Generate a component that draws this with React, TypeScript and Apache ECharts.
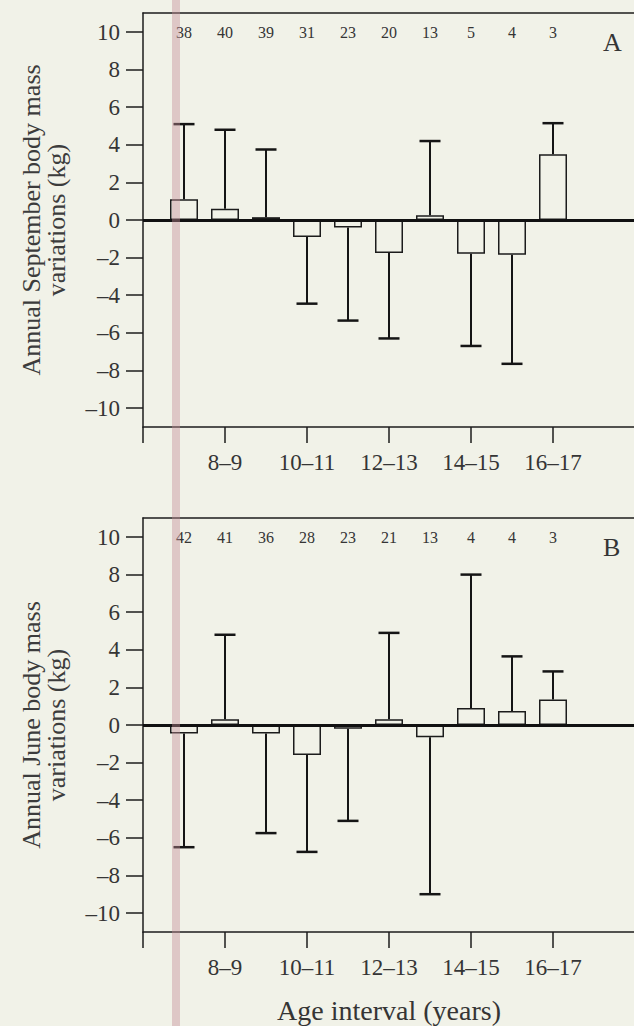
import React, { useEffect, useRef } from "react";
import * as echarts from "echarts";

// Age interval start (7 => "7–8")
const ages = [7, 8, 9, 10, 11, 12, 13, 14, 15, 16];
// Panel A: annual September body mass variations (kg)
const septMeans = [1.1, 0.6, 0.15, -0.9, -0.4, -1.75, 0.25, -1.8, -1.85, 3.5];
const septSD = [4.0, 4.2, 3.6, 3.55, 4.95, 4.55, 3.95, 4.9, 5.8, 1.65];
const septN = [38, 40, 39, 31, 23, 20, 13, 5, 4, 3];
// Panel B: annual June body mass variations (kg)
const juneMeans = [-0.45, 0.3, -0.45, -1.6, -0.2, 0.3, -0.65, 0.9, 0.75, 1.35];
const juneSD = [6.05, 4.5, 5.3, 5.15, 4.9, 4.6, 8.35, 7.1, 2.9, 1.5];
const juneN = [42, 41, 36, 28, 23, 21, 13, 4, 4, 3];
// Axis tick values
const xTicks = [8, 10, 12, 14, 16];
const yTitles = ["Annual September body mass\nvariations (kg)", "Annual June body mass\nvariations (kg)"];
const panelLetters = ["A", "B"];
const xTitle = "Age interval (years)";

const FONT = '"Liberation Serif", "DejaVu Serif", serif';
const TEXT = "#353535";
const INK = "#1c1c1c";
const BG = "#f1f2e8";

export default function App() {
  const ref = useRef<HTMLDivElement>(null);
  useEffect(() => {
    if (!ref.current) return;
    const chart = echarts.init(ref.current, null, { renderer: "svg" });

    const panels = [
      { top: 13, means: septMeans, sd: septSD, n: septN },
      { top: 518, means: juneMeans, sd: juneSD, n: juneN },
    ];
    const grids: any[] = [];
    const xAxes: any[] = [];
    const yAxes: any[] = [];
    const series: any[] = [];
    const graphics: any[] = [];

    panels.forEach((p, i) => {
      const frameGrid = i * 2;
      const dataGrid = i * 2 + 1;
      grids.push({ left: 143, top: p.top, width: 492, height: 414 });
      grids.push({ left: 143, top: p.top + 19, width: 492, height: 376 });

      // frame grid axes
      xAxes.push({
        gridIndex: frameGrid, type: "value", position: "bottom", min: 6, max: 18, interval: 2,
        axisLine: { show: true, onZero: false, lineStyle: { color: INK, width: 1.5 } },
        axisTick: { show: true, inside: false, length: 16, lineStyle: { color: INK, width: 1.5 } },
        axisLabel: {
          show: true, margin: 24, color: TEXT, fontFamily: FONT, fontSize: 23,
          formatter: (v: number) => (xTicks.includes(v) ? `${v}–${v + 1}` : ""),
        },
        splitLine: { show: false },
        name: i === 1 ? xTitle : "",
        nameLocation: "middle", nameGap: 64,
        nameTextStyle: { color: TEXT, fontFamily: FONT, fontSize: 28 },
      });
      xAxes.push({
        gridIndex: frameGrid, type: "value", position: "top", min: 6, max: 18,
        axisLine: { show: true, onZero: false, lineStyle: { color: INK, width: 1.5 } },
        axisTick: { show: false }, axisLabel: { show: false }, splitLine: { show: false },
      });
      yAxes.push({
        gridIndex: frameGrid, type: "value", min: -11, max: 11,
        axisLine: { show: true, onZero: false, lineStyle: { color: INK, width: 1.5 } },
        axisTick: { show: false }, axisLabel: { show: false }, splitLine: { show: false },
      });
      // data grid axes
      xAxes.push({ gridIndex: dataGrid, type: "value", min: 6, max: 18, show: false, axisLine: { onZero: false }, splitLine: { show: false } });
      yAxes.push({
        gridIndex: dataGrid, type: "value", min: -10, max: 10, interval: 2,
        axisLine: { show: false, onZero: false },
        axisTick: { show: true, inside: false, length: 17, lineStyle: { color: INK, width: 1.5 } },
        axisLabel: {
          show: true, margin: 23, color: TEXT, fontFamily: FONT, fontSize: 23,
          formatter: (v: number) => (v < 0 ? "–" + Math.abs(v) : String(v)),
        },
        splitLine: { show: false },
        name: yTitles[i], nameLocation: "middle", nameGap: 74,
        nameTextStyle: { color: "#3c3c3c", fontFamily: FONT, fontSize: 26, lineHeight: 25 },
      });

      const xIdx = i * 3 + 2;
      const yIdx = i * 2 + 1;

      series.push({
        type: "bar", xAxisIndex: xIdx, yAxisIndex: yIdx, barWidth: 28,
        data: ages.map((a, k) => [a, p.means[k]]),
        itemStyle: { color: BG, borderColor: INK, borderWidth: 1.5 },
        markLine: {
          silent: true, symbol: ["none", "none"], label: { show: false },
          lineStyle: { color: "#111", width: 3, type: "solid" },
          data: [{ yAxis: 0 }],
        },
        z: 2,
      });
      series.push({
        type: "custom", xAxisIndex: xIdx, yAxisIndex: yIdx, z: 3,
        data: ages.map((a, k) => [a, p.means[k], p.means[k] + (p.means[k] >= 0 ? 1 : -1) * p.sd[k]]),
        encode: { x: 0, y: [1, 2] },
        renderItem: (_params: any, api: any) => {
          const x = api.value(0), m = api.value(1), e = api.value(2);
          const p0 = api.coord([x, m]);
          const p1 = api.coord([x, e]);
          return {
            type: "group",
            children: [
              { type: "line", shape: { x1: p0[0], y1: p0[1], x2: p1[0], y2: p1[1] }, style: { stroke: "#151515", lineWidth: 2 } },
              { type: "line", shape: { x1: p1[0] - 10.5, y1: p1[1], x2: p1[0] + 10.5, y2: p1[1] }, style: { stroke: "#151515", lineWidth: 2.5 } },
            ],
          };
        },
      });
      series.push({
        type: "custom", xAxisIndex: xIdx, yAxisIndex: yIdx, z: 4,
        data: ages.map((a, k) => [a, 10, p.n[k]]),
        encode: { x: 0, y: 1 },
        renderItem: (_params: any, api: any) => {
          const pt = api.coord([api.value(0), api.value(1)]);
          return {
            type: "text", x: pt[0], y: pt[1],
            style: {
              text: String(api.value(2)), font: `16px ${FONT}`, fill: TEXT,
              align: "center", verticalAlign: "middle", textAlign: "center", textVerticalAlign: "middle",
            },
          };
        },
      });

      graphics.push({
        type: "text", left: 603, top: p.top + 16,
        style: { text: panelLetters[i], font: `26px ${FONT}`, fill: TEXT },
      });
    });

    graphics.push({
      type: "rect", left: 172, top: 0, shape: { x: 0, y: 0, width: 8, height: 1026 },
      style: { fill: "rgba(195,140,150,0.42)" }, z: 100,
    });

    chart.setOption({
      animation: false,
      backgroundColor: BG,
      textStyle: { fontFamily: FONT },
      grid: grids,
      xAxis: xAxes,
      yAxis: yAxes,
      series,
      graphic: graphics,
    });
    return () => chart.dispose();
  }, []);

  return (
    <div style={{ position: "fixed", left: 0, top: 0, width: 634, height: 1026, overflow: "hidden", background: BG }}>
      <div ref={ref} style={{ width: 640, height: 1026 }} />
    </div>
  );
}
